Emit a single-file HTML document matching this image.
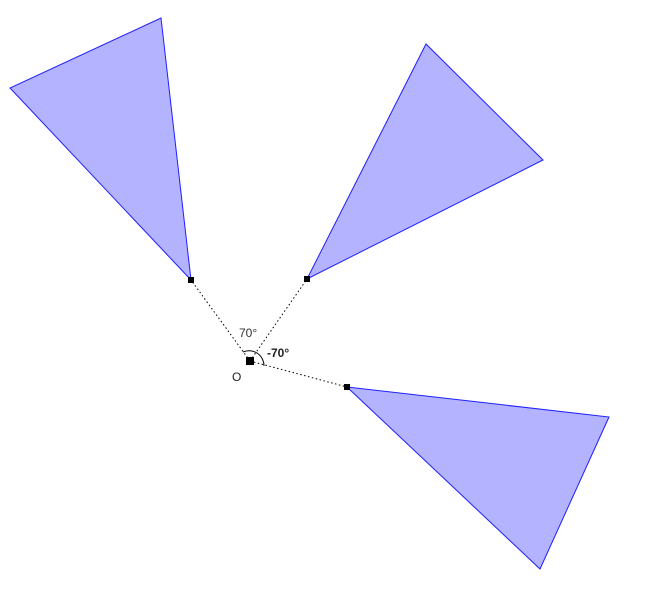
<!DOCTYPE html>
<html><head><meta charset="utf-8"><style>
html,body{margin:0;padding:0;background:#fff;}
svg{display:block;font-family:"Liberation Sans",sans-serif;}
</style></head><body>
<svg id="fig" width="648" height="601" viewBox="0 0 648 601">
<g id="tris"></g>
<g id="segs"></g>
<path d="M243,352 A15,15 0 0 1 264,366" fill="none" stroke="#000" stroke-width="1"/>
<text x="239" y="337" font-size="12" fill="#333">70°</text>
<text x="267" y="357" font-size="12" font-weight="bold" fill="#222">-70°</text>
<rect x="246" y="357" width="8" height="8" fill="#000"/>
<text x="232" y="381" font-size="12" fill="#222">O</text>
<g id="pts"></g>
</svg>
<script>
const center=[250,361];
const triNames=['triangle-top-left','triangle-top-right','triangle-bottom-right'];
const triA=[[191,280],[307,279],[347,387]];
const triB=[[10,88],[426,44],[609,417]];
const triC=[[161,18],[543,160],[540,569]];
const NS='http://www.w3.org/2000/svg';
const tris=document.getElementById('tris'),segs=document.getElementById('segs'),pts=document.getElementById('pts');
for(let i=0;i<triA.length;i++){
  const p=document.createElementNS(NS,'polygon');
  p.setAttribute('points',[triA[i],triB[i],triC[i]].map(q=>q.join(',')).join(' '));
  p.setAttribute('fill','#b3b3ff');p.setAttribute('stroke','#1f1fff');p.setAttribute('stroke-width','1');
  
  
  tris.appendChild(p);
  const l=document.createElementNS(NS,'line');
  l.setAttribute('x1',center[0]);l.setAttribute('y1',center[1]);l.setAttribute('x2',triA[i][0]);l.setAttribute('y2',triA[i][1]);
  l.setAttribute('stroke','#000');l.setAttribute('stroke-dasharray','1.5,2.5');l.setAttribute('stroke-width','1');
  
  
  segs.appendChild(l);
  const r=document.createElementNS(NS,'rect');
  r.setAttribute('x',triA[i][0]-3);r.setAttribute('y',triA[i][1]-3);r.setAttribute('width',6);r.setAttribute('height',6);r.setAttribute('fill','#000');
  
  
  pts.appendChild(r);
}
</script>
</body></html>
